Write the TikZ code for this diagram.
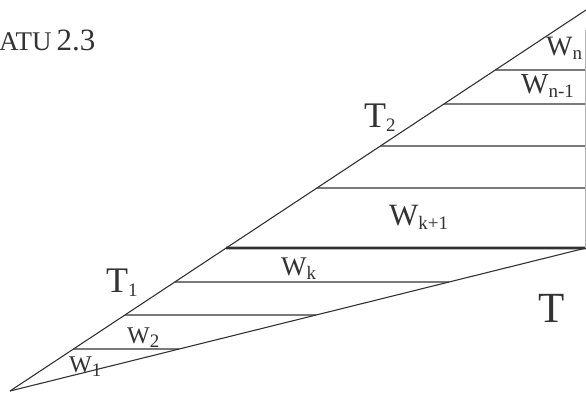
\documentclass[tikz,border=0pt]{standalone}
\usepackage{fontspec}
\setmainfont{Liberation Serif}
\usetikzlibrary{calc}
\definecolor{ink}{HTML}{333333}
\tikzset{
  edge/.style={draw=ink, line width=1.1pt},
  heavy/.style={draw=ink, line width=2.6pt},
  lbl/.style={anchor=base west, inner sep=0pt, text=ink},
}
\newcommand{\sbs}[1]{{\fontsize{19}{19}\selectfont\raisebox{-4pt}{#1}}}
\begin{document}
\begin{tikzpicture}[x=1pt,y=-1pt]
\useasboundingbox (0,0) rectangle (586,392);
\fill[white] (0,0) rectangle (586,392);
\coordinate (O) at (10,391);
\coordinate (P) at (586,10);
\coordinate (Q) at (586,248);
% horizontal lines above the heavy one
\foreach \yy/\nm in {70/a,104/b,146/c,188/d}{
  \coordinate (L\nm) at ($(O)!{(391-\yy)/381}!(P)$);
  \coordinate (R\nm) at (586,\yy);
  \draw[edge] (L\nm) -- (R\nm);
}
% heavy line
\coordinate (Lh) at ($(O)!{(391-248)/381}!(P)$);
\draw[heavy] (Lh) -- (Q);
% lines below the heavy one
\foreach \yy/\nm in {282/e,315/f,349/g}{
  \coordinate (L\nm) at ($(O)!{(391-\yy)/381}!(P)$);
  \coordinate (R\nm) at ($(O)!{(391-\yy)/143}!(Q)$);
  \draw[edge] (L\nm) -- (R\nm);
}
\draw[edge] (O) -- (P);
\draw[edge] (O) -- (Q);
\coordinate (Vt) at (585,30);
\coordinate (Vb) at (585,248);
\draw[draw=gray!60, line width=0.6pt] (Vt) -- (Vb);
% labels
\node[lbl] (title) at (-1,50) {{\fontsize{27}{27}\selectfont ATU}\hspace{5pt}{\fontsize{31}{31}\selectfont 2.3}};
\node[lbl, font=\fontsize{28}{28}\selectfont] (wn) at (546,55) {W\sbs{n}};
\node[lbl, font=\fontsize{29}{29}\selectfont] (wn1) at (521,93) {W\sbs{n-1}};
\node[lbl, font=\fontsize{36}{36}\selectfont] (t2) at (364,127) {T\sbs{2}};
\node[lbl, font=\fontsize{31}{31}\selectfont] (wk1) at (389,225) {W\sbs{k+1}};
\node[lbl, font=\fontsize{27}{27}\selectfont] (wk) at (281,275) {W\sbs{k}};
\node[lbl, font=\fontsize{36}{36}\selectfont] (t1) at (106,292) {T\sbs{1}};
\node[lbl, font=\fontsize{24}{24}\selectfont] (w2) at (127,343) {W\sbs{2}};
\node[lbl, font=\fontsize{24}{24}\selectfont] (w1) at (69,372) {W\sbs{1}};
\node[lbl, font=\fontsize{43}{43}\selectfont] (t) at (538,322) {T};
\end{tikzpicture}
\end{document}
